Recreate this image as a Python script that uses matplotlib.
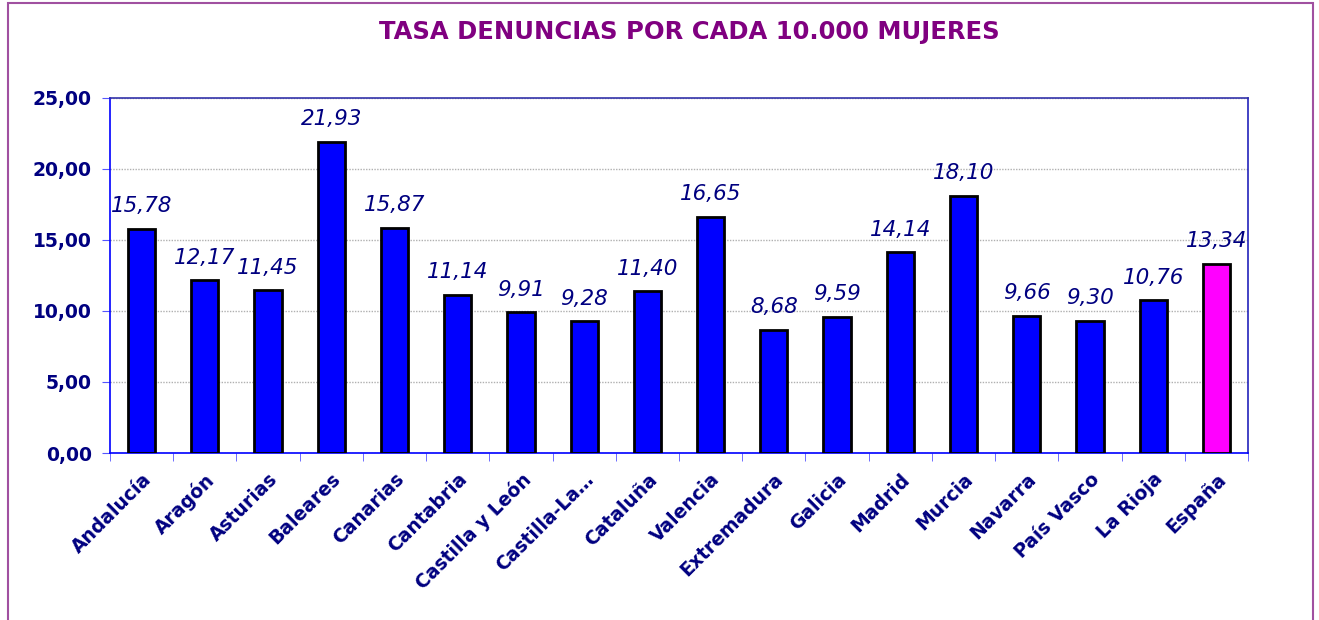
#!/usr/bin/env python3
"""Tasa de denuncias por cada 10.000 mujeres, por comunidad autonoma."""
import matplotlib.pyplot as plt
from matplotlib.patches import Rectangle
from matplotlib.ticker import FixedLocator

REGIONS = [
    "Andalucía", "Aragón", "Asturias", "Baleares", "Canarias", "Cantabria",
    "Castilla y León", "Castilla-La…", "Cataluña", "Valencia", "Extremadura",
    "Galicia", "Madrid", "Murcia", "Navarra", "País Vasco", "La Rioja", "España",
]
RATES = [
    15.78, 12.17, 11.45, 21.93, 15.87, 11.14, 9.91, 9.28, 11.40,
    16.65, 8.68, 9.59, 14.14, 18.10, 9.66, 9.30, 10.76, 13.34,
]
Y_TICKS = [0, 5, 10, 15, 20, 25]

NAVY = "#000080"
AXIS_BLUE = "#0000ff"


def fmt(v: float) -> str:
    return f"{v:.2f}".replace(".", ",")


fig = plt.figure(figsize=(13.19, 6.2), dpi=100)
ax = fig.add_axes([110 / 1319, 1 - 453 / 620, 1138 / 1319, 355 / 620])

x = list(range(len(REGIONS)))
colors = ["#ff00ff" if r == "España" else "#0000ff" for r in REGIONS]
ax.bar(x, RATES, width=0.43, color=colors, edgecolor="black", linewidth=2, zorder=3)

for xi, v in zip(x, RATES):
    ax.annotate(fmt(v), (xi, v), xytext=(0, 9), textcoords="offset points",
                ha="center", va="bottom", fontsize=15.5, style="italic", color=NAVY)

ax.set_xlim(-0.5, len(REGIONS) - 0.5)
ax.set_ylim(0, 25)
ax.set_yticks(Y_TICKS)
ax.set_yticklabels([fmt(t) for t in Y_TICKS], fontsize=13.5, fontweight="bold", color=NAVY)
ax.yaxis.grid(True, color="#b0b0b0", linestyle=(0, (1, 1)), linewidth=1, zorder=0)

ax.set_xticks(x)
ax.set_xticklabels(REGIONS, rotation=45, ha="right", rotation_mode="anchor",
                   fontsize=13.5, fontweight="bold", color=NAVY)
ax.tick_params(axis="x", which="major", length=0, pad=12)
ax.xaxis.set_minor_locator(FixedLocator([i + 0.5 for i in range(-1, len(REGIONS))]))
ax.tick_params(axis="x", which="minor", length=6, color="#5555ff", direction="out")
ax.tick_params(axis="y", length=6, color="#5555ff", direction="out", pad=7)

for side in ["left", "bottom", "top", "right"]:
    ax.spines[side].set_color(AXIS_BLUE)
    ax.spines[side].set_linewidth(1.2)
ax.spines["top"].set_color("#3333aa")
ax.spines["right"].set_color("#2222bb")

fig.text(689 / 1319, 1 - 32 / 620, "TASA DENUNCIAS POR CADA 10.000 MUJERES",
         ha="center", va="center", fontsize=17.5, fontweight="bold", color="#800080")

# outer frame of the chart area
fig.patches.append(Rectangle((8 / 1319, -0.05), (1313 - 8) / 1319, 1.05 - 3 / 620,
                             transform=fig.transFigure, fill=False,
                             edgecolor="#a050a0", linewidth=1.5))

fig.savefig("out.png", dpi=100)
